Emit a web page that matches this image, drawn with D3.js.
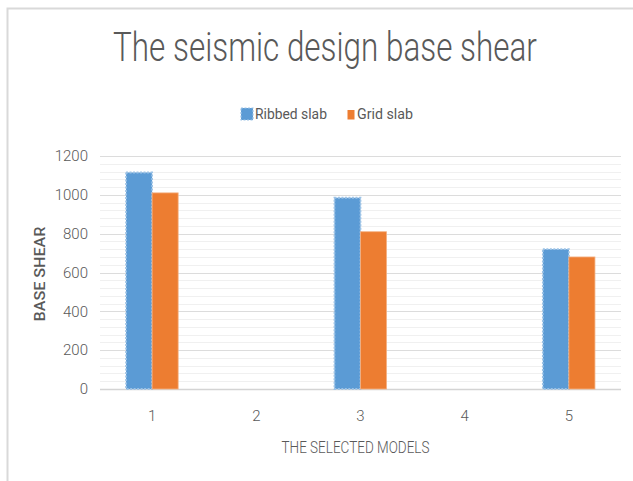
<!DOCTYPE html>
<html>
<head>
<meta charset="utf-8">
<script src="https://cdn.jsdelivr.net/npm/d3@7"></script>
<style>
  html, body { margin: 0; padding: 0; background: #ffffff; }
  svg { display: block; }
  text { font-family: Roboto, "DejaVu Sans Condensed", sans-serif; }
</style>
</head>
<body>
<svg id="chart" width="633" height="481"></svg>
<script>
// Seismic design base shear per model
const models = ["1", "2", "3", "4", "5"];
const seriesNames = ["Ribbed slab", "Grid slab"];
const ribbedSlab = [1115, 0, 985, 0, 720];
const gridSlab = [1010, 0, 810, 0, 680];
const yTicks = [0, 200, 400, 600, 800, 1000, 1200];
const yMinorStep = 40;

const colors = { ribbed: "#5B9BD5", ribbedEdge: "#9DC3E6", grid: "#ED7D31", gridEdge: "#F4B183" };
const textColor = "#595959";

const svg = d3.select("#chart");
const W = 633, H = 481;
const plot = { left: 100, right: 621, top: 156, bottom: 389 };

// Squeeze a text horizontally to a given width, keeping its anchor point fixed
function fitWidth(sel, width, ax, ay) {
  const w = sel.node().getComputedTextLength();
  sel.attr("transform", `translate(${ax},${ay}) scale(${width / w},1)`).attr("x", 0).attr("y", 0);
  return sel;
}

// Chart frame
svg.append("path")
  .attr("d", `M7.5,${H} L7.5,8.5 L${W},8.5`)
  .attr("fill", "none").attr("stroke", "#d9d9d9").attr("stroke-width", 2);

const x = d3.scaleBand().domain(models).range([plot.left, plot.right]).paddingInner(0).paddingOuter(0);
const y = d3.scaleLinear().domain([0, 1200]).range([plot.bottom, plot.top]);
const inner = d3.scaleBand().domain(seriesNames).range([0, x.bandwidth() / 2]);

// Minor and major gridlines
const minor = d3.range(0, 1200 + 1, yMinorStep).filter(v => v % 200 !== 0);
svg.append("g").selectAll("line").data(minor).join("line")
  .attr("x1", plot.left).attr("x2", plot.right)
  .attr("y1", d => Math.round(y(d)) + 0.5).attr("y2", d => Math.round(y(d)) + 0.5)
  .attr("stroke", "#f0f0f0").attr("stroke-width", 1);
svg.append("g").selectAll("line").data(yTicks).join("line")
  .attr("x1", plot.left).attr("x2", plot.right)
  .attr("y1", d => Math.round(y(d)) + 0.5).attr("y2", d => Math.round(y(d)) + 0.5)
  .attr("stroke", d => d === 0 ? "#d4d4d4" : "#dcdcdc").attr("stroke-width", d => d === 0 ? 1.5 : 1);

// Y axis labels
const yAxis = d3.axisLeft(y).tickValues(yTicks).tickFormat(d3.format("d")).tickSize(0).tickPadding(0);
const gy = svg.append("g").attr("transform", `translate(88,0)`).call(yAxis);
gy.select(".domain").remove();
gy.selectAll("text").attr("fill", textColor).attr("font-size", 15)
  .attr("font-family", "Roboto, DejaVu Sans Condensed, sans-serif").attr("font-weight", 300);

// X axis labels
const xAxis = d3.axisBottom(x).tickSize(0).tickPadding(0);
const gx = svg.append("g").attr("transform", `translate(0,${plot.bottom + 21})`).call(xAxis);
gx.select(".domain").remove();
gx.selectAll("text").attr("fill", textColor).attr("font-size", 15)
  .attr("font-family", "Roboto, DejaVu Sans Condensed, sans-serif").attr("font-weight", 300);

// Bars
const rows = models.map((m, i) => ({ model: m, values: [ribbedSlab[i], gridSlab[i]] }));
const groups = svg.append("g").selectAll("g").data(rows).join("g")
  .attr("transform", d => `translate(${x(d.model) + x.bandwidth() / 4},0)`);
groups.selectAll("rect").data(d => d.values.map((v, k) => ({ key: seriesNames[k], value: v })).filter(e => e.value > 0))
  .join("rect")
  .attr("x", d => inner(d.key))
  .attr("y", d => y(d.value))
  .attr("width", inner.bandwidth())
  .attr("height", d => y(0) - y(d.value))
  .attr("fill", d => d.key === seriesNames[0] ? colors.ribbed : colors.grid)
  .attr("stroke", d => d.key === seriesNames[0] ? colors.ribbedEdge : colors.gridEdge)
  .attr("stroke-width", d => d.key === seriesNames[0] ? 1.8 : 0.8)
  .attr("stroke-dasharray", d => d.key === seriesNames[0] ? "2,1.5" : null);

// Title
const title = svg.append("text")
  .attr("text-anchor", "middle")
  .attr("font-size", 41).attr("font-weight", 300).attr("fill", textColor)
  .text("The seismic design base shear");
fitWidth(title, 424, 325, 61);

// Legend
const legend = svg.append("g");
legend.append("rect").attr("x", 241).attr("y", 108).attr("width", 12).attr("height", 12)
  .attr("fill", colors.ribbed).attr("stroke", colors.ribbedEdge).attr("stroke-width", 1.2).attr("stroke-dasharray", "2,1.5");
fitWidth(legend.append("text").attr("font-size", 15).attr("fill", textColor).text(seriesNames[0]), 72, 255, 119);
legend.append("rect").attr("x", 347.5).attr("y", 110).attr("width", 7).attr("height", 9.5)
  .attr("fill", colors.grid);
fitWidth(legend.append("text").attr("font-size", 15).attr("fill", textColor).text(seriesNames[1]), 56, 357, 119);

// Axis titles
const yTitle = svg.append("text")
  .attr("text-anchor", "middle")
  .attr("font-size", 14).attr("font-weight", 500).attr("fill", textColor)
  .text("BASE SHEAR");
{
  const w = yTitle.node().getComputedTextLength();
  yTitle.attr("transform", `translate(45,274) rotate(-90) scale(${95 / w},1)`);
}
const xTitle = svg.append("text")
  .attr("text-anchor", "middle")
  .attr("font-size", 16).attr("font-weight", 300).attr("fill", textColor)
  .text("THE SELECTED MODELS");
fitWidth(xTitle, 148, 355.5, 453);
</script>
</body>
</html>
